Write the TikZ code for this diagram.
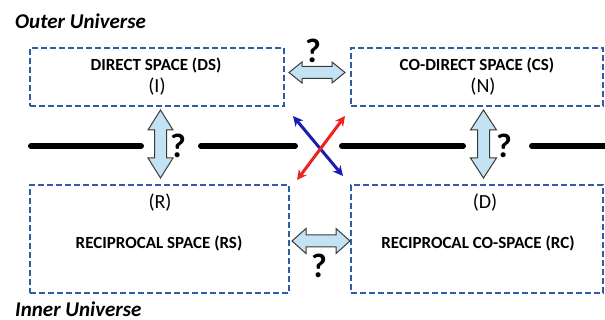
\documentclass[tikz,border=0pt]{standalone}
\usepackage{fontspec}
\setmainfont{Carlito}
\usetikzlibrary{arrows.meta}
\definecolor{boxblue}{HTML}{2F5DA5}
\definecolor{arrfill}{HTML}{C3E2F4}
\definecolor{arredge}{HTML}{3A3A3A}
\definecolor{xblue}{HTML}{1C1CB4}
\definecolor{xred}{HTML}{EE2222}
\begin{document}
\begin{tikzpicture}[x=1pt,y=-1pt,
 spacebox/.style={draw=boxblue, line width=1.8pt, dash pattern=on 6pt off 3pt, inner sep=0pt},
 title/.style={font=\fontsize{17}{20}\selectfont\bfseries, inner sep=0pt},
 lbl/.style={font=\fontsize{20}{24}\selectfont, inner sep=0pt},
 univ/.style={font=\fontsize{21}{24}\selectfont\bfseries\itshape, anchor=west, inner sep=0pt},
 qmark/.style={font=\fontsize{34}{40}\selectfont\bfseries, inner sep=0pt},
 blockarrow/.style={fill=arrfill, draw=arredge, line width=1pt, line join=miter},
 axis/.style={line width=6pt, line cap=round},
 cross/.style={line width=3pt, {Stealth[length=10pt,width=10pt]}-{Stealth[length=10pt,width=10pt]}}]
\useasboundingbox (0,0) rectangle (605,320);

% universe labels
\node[univ] (outer) at (15,21) {Outer Universe};
\node[univ] (inner) at (15,309) {Inner Universe};

% boxes
\node[spacebox, minimum width=254pt, minimum height=58pt] (ds) at (157,77) {};
\node[spacebox, minimum width=252pt, minimum height=58pt] (cs) at (477,77) {};
\node[spacebox, minimum width=259pt, minimum height=108pt] (rs) at (159.5,239) {};
\node[spacebox, minimum width=252pt, minimum height=108pt] (rc) at (477,239) {};

% box texts
\node[title] (dst) at (156,65) {DIRECT SPACE (DS)};
\node[lbl] (dsl) at (157,87) {(I)};
\node[title] (cst) at (477,65) {CO-DIRECT SPACE (CS)};
\node[lbl] (csl) at (483,87) {(N)};
\node[lbl] (rsl) at (160,203) {(R)};
\node[title] (rst) at (159,243) {RECIPROCAL SPACE (RS)};
\node[lbl] (rcl) at (485,203) {(D)};
\node[title] (rct) at (478,243) {RECIPROCAL CO-SPACE (RC)};

% axis line segments
\coordinate (a1) at (31,146); \coordinate (a2) at (141,146);
\coordinate (a3) at (201,146); \coordinate (a4) at (295,146);
\coordinate (a5) at (342,146); \coordinate (a6) at (463,146);
\coordinate (a7) at (532,146); \coordinate (a8) at (612,146);
\draw[axis] (a1) -- (a2);
\draw[axis] (a3) -- (a4);
\draw[axis] (a5) -- (a6);
\draw[axis] (a7) -- (a8);

% block double arrows
\draw[blockarrow] (289,72.5) -- (302,62) -- (302,66.5) -- (332,66.5) -- (332,62) -- (345,72.5) -- (332,83) -- (332,78.5) -- (302,78.5) -- (302,83) -- cycle;
\draw[blockarrow] (292,241) -- (306,228.5) -- (306,235) -- (336,235) -- (336,228.5) -- (350,241) -- (336,253.5) -- (336,247) -- (306,247) -- (306,253.5) -- cycle;
\draw[blockarrow] (160.5,110) -- (173,130) -- (166.5,130) -- (166.5,158) -- (173,158) -- (160.5,178) -- (148,158) -- (154.5,158) -- (154.5,130) -- (148,130) -- cycle;
\draw[blockarrow] (483.5,110) -- (496.5,130) -- (489.5,130) -- (489.5,158) -- (496.5,158) -- (483.5,178) -- (470.5,158) -- (477.5,158) -- (477.5,130) -- (470.5,130) -- cycle;

% question marks
\node[qmark] (q1) at (313,51) {?};
\node[qmark] (q2) at (319,266) {?};
\node[qmark] (q3) at (178,146) {?};
\node[qmark] (q4) at (504,146) {?};

% crossing arrows
\coordinate (bx1) at (293,116); \coordinate (bx2) at (343,176);
\coordinate (rx1) at (297,180); \coordinate (rx2) at (345,116);
\draw[cross, xblue] (bx1) -- (bx2);
\draw[cross, xred] (rx1) -- (rx2);
\end{tikzpicture}
\end{document}
